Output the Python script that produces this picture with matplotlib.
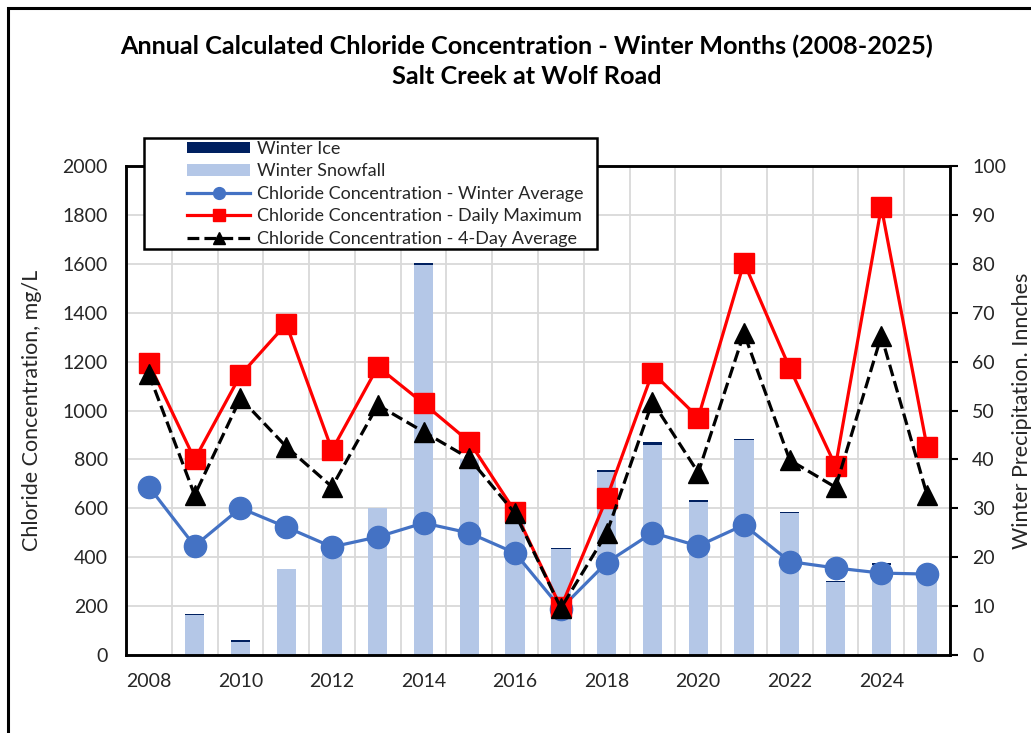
import numpy as np
import matplotlib.pyplot as plt
from matplotlib.patches import Rectangle, Patch
from matplotlib.lines import Line2D

# ------------------------------------------------------------
# data
# ------------------------------------------------------------
years = [2008, 2009, 2010, 2011, 2012, 2013, 2014, 2015, 2016,
         2017, 2018, 2019, 2020, 2021, 2022, 2023, 2024, 2025]

# inches (right axis)
snowfall = [0.0, 8.1, 2.7, 17.5, 22.0, 30.1, 79.8, 40.0, 28.0,
            21.6, 37.5, 42.9, 31.3, 44.0, 29.0, 14.9, 18.5, 16.5]
ice = [0.0, 0.3, 0.3, 0.0, 0.0, 0.0, 0.3, 0.0, 0.0,
       0.2, 0.3, 0.6, 0.3, 0.2, 0.3, 0.3, 0.3, 0.0]

# mg/L (left axis)
cl_avg = [688, 446, 601, 523, 442, 483, 540, 499, 417,
          190, 378, 500, 446, 532, 382, 356, 335, 331]
cl_max = [1193, 800, 1145, 1354, 838, 1179, 1029, 872, 586,
          195, 641, 1155, 971, 1605, 1173, 773, 1832, 849]
cl_4day = [1149, 654, 1050, 852, 688, 1022, 913, 804, 579,
           192, 498, 1036, 746, 1316, 797, 686, 1305, 654]

xlabels = [2008, 2010, 2012, 2014, 2016, 2018, 2020, 2022, 2024]

# ------------------------------------------------------------
plt.rcParams['font.family'] = ['Lato', 'DejaVu Sans']
W, H = 1031, 733
fig = plt.figure(figsize=(W / 100, H / 100), dpi=100)

L, R, T, B = 126, 950, 166, 655
ax2 = fig.add_axes([L / W, 1 - B / H, (R - L) / W, (B - T) / H])   # bars, below
ax = ax2.twinx()                                                     # lines, on top
ax.set_zorder(ax2.get_zorder() + 1)
ax.patch.set_visible(False)

x = np.array(years)
ax2.bar(x, snowfall, width=0.42, color='#B4C7E7', zorder=2)
ax2.bar(x, ice, width=0.42, bottom=snowfall, color='#002060', zorder=2)

ax.plot(x, cl_avg, color='#4472C4', lw=2.3, marker='o', ms=16)
ax.plot(x, cl_max, color='#FF0000', lw=2.3, marker='s', ms=15)
ax.plot(x, cl_4day, color='black', lw=2.3, ls='--', marker='^', ms=15)

# ax2 holds the x axis and the right (inches) scale, ax the left (mg/L) scale
ax2.set_xlim(2007.5, 2025.5)
ax2.set_ylim(0, 100)
ax.set_ylim(0, 2000)

ax2.yaxis.tick_right()
ax2.yaxis.set_label_position('right')
ax.yaxis.tick_left()
ax.yaxis.set_label_position('left')

ax2.set_yticks(np.arange(0, 101, 10))
ax.set_yticks(np.arange(0, 2001, 200))
ax2.set_xticks(xlabels)
ax2.set_xticks(np.arange(2007.5, 2025.6, 1), minor=True)

ax2.grid(axis='y', which='major', color='#D9D9D9', lw=1.3, zorder=0)
ax2.grid(axis='x', which='minor', color='#D9D9D9', lw=1.3, zorder=0)
ax2.grid(axis='x', which='major', visible=False)
ax2.set_axisbelow(True)

ax2.tick_params(axis='x', which='both', length=0, pad=13, labelsize=14, labelcolor='#262626')
ax2.tick_params(axis='y', which='major', direction='out', length=6, width=1.5,
                pad=10, labelsize=14, labelcolor='#262626')
ax.tick_params(axis='y', length=0, pad=13, labelsize=14, labelcolor='#262626')
ax.tick_params(axis='x', length=0)

for a in (ax, ax2):
    for s in a.spines.values():
        s.set_linewidth(1.8)
        s.set_color('black')

ax.set_ylabel('Chloride Concentration, mg/L', fontsize=15.5, color='#262626')
ax2.set_ylabel('Winter Precipitation. Innches', fontsize=15.5, color='#262626')
ax.yaxis.set_label_coords(-0.102, 0.5)
ax2.yaxis.set_label_coords(1.0752, 0.5)

fig.text(527 / W, 1 - 46 / H, 'Annual Calculated Chloride Concentration - Winter Months (2008-2025)',
         ha='center', va='center', fontsize=18.2, fontweight='bold')
fig.text(527 / W, 1 - 77 / H, 'Salt Creek at Wolf Road',
         ha='center', va='center', fontsize=18.2, fontweight='bold')

# legend: white box with black edge, entries start well inside the box
fig.patches.append(Rectangle((144 / W, 1 - 249 / H), (597 - 144) / W, (249 - 138) / H,
                             transform=fig.transFigure, fc='white', ec='black',
                             lw=1.8, zorder=4))
handles = [
    Patch(facecolor='#002060', edgecolor='none'),
    Patch(facecolor='#B4C7E7', edgecolor='none'),
    Line2D([], [], color='#4472C4', lw=2.3, marker='o', ms=8.5),
    Line2D([], [], color='#FF0000', lw=2.3, marker='s', ms=8.5),
    Line2D([], [], color='black', lw=2.3, ls='--', marker='^', ms=8.5),
]
labels = ['Winter Ice', 'Winter Snowfall',
          'Chloride Concentration - Winter Average',
          'Chloride Concentration - Daily Maximum',
          'Chloride Concentration - 4-Day Average']
leg = fig.legend(handles, labels, loc='upper left',
                 bbox_to_anchor=(187 / W, 1 - 141 / H), bbox_transform=fig.transFigure,
                 borderaxespad=0, borderpad=0, fontsize=13, handlelength=3.5,
                 handleheight=0.6, handletextpad=0.4, labelspacing=0.355,
                 frameon=False)
for t in leg.get_texts():
    t.set_color('#262626')

# outer chart frame (left and top edges visible)
fig.patches.append(Rectangle((8 / W, -0.1), 1.2, 1 - 8 / H + 0.1, transform=fig.transFigure,
                             fill=False, ec='black', lw=2.2))

fig.savefig('out.png', dpi=100)
